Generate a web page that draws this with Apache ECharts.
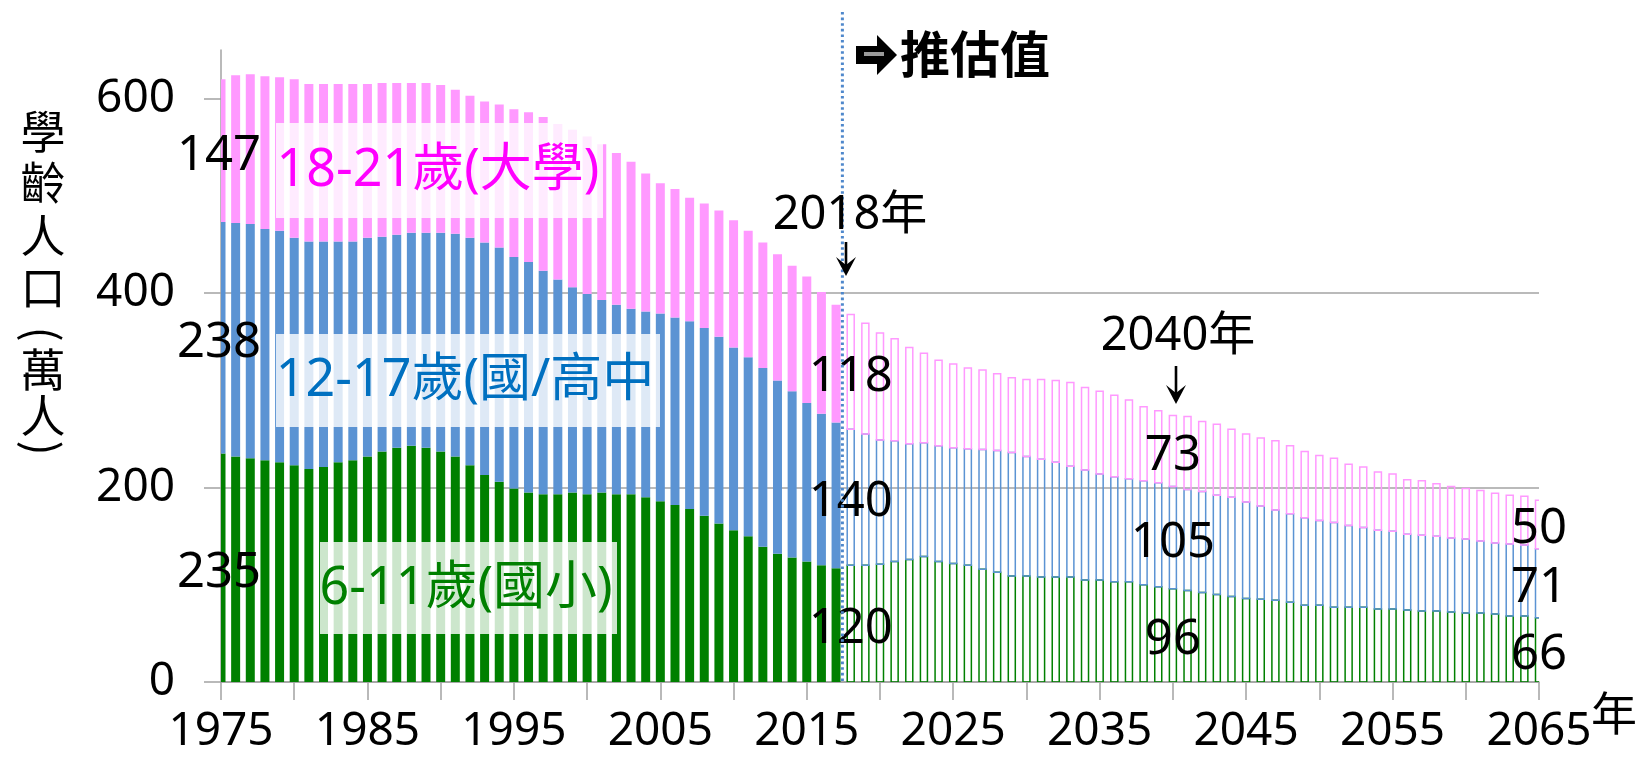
<!DOCTYPE html>
<html><head><meta charset="utf-8">
<script src="https://cdn.jsdelivr.net/npm/echarts@6/dist/echarts.min.js"></script>
<style>html,body{margin:0;padding:0;background:#fff}#c{width:1652px;height:760px}</style>
</head><body><div id="c"></div>
<script>
// ---- data ----
const years = [
  1975,1976,1977,1978,1979,1980,1981,1982,1983,1984,
  1985,1986,1987,1988,1989,1990,1991,1992,1993,1994,
  1995,1996,1997,1998,1999,2000,2001,2002,2003,2004,
  2005,2006,2007,2008,2009,2010,2011,2012,2013,2014,
  2015,2016,2017,2018,2019,2020,2021,2022,2023,2024,
  2025,2026,2027,2028,2029,2030,2031,2032,2033,2034,
  2035,2036,2037,2038,2039,2040,2041,2042,2043,2044,
  2045,2046,2047,2048,2049,2050,2051,2052,2053,2054,
  2055,2056,2057,2058,2059,2060,2061,2062,2063,2064,
  2065];
// 6-11歲(國小), 萬人
const primary = [
  235,232,230,228,226,223,219,221,226,228,
  232,237,241,243,241,237,232,223,213,206,
  199,195,193,193,195,193,195,193,193,190,
  186,182,178,171,163,156,150,139,132,128,
  124,120,117,120,120,121,124,126,129,124,
  122,120,116,113,109,109,108,108,108,105,
  105,103,103,100,98,96,94,92,90,88,
  86,85,84,82,79,79,77,77,77,75,
  75,74,73,73,72,71,71,70,68,68,
  66];
// 12-17歲(國/高中)
const secondary = [
  238,240,241,238,238,234,234,232,227,225,
  225,221,219,219,221,225,229,234,239,241,
  238,237,230,221,211,206,198,195,191,191,
  193,193,193,193,192,188,184,184,178,171,
  163,156,150,140,135,128,124,119,117,119,
  119,120,123,125,127,123,121,118,114,113,
  109,108,106,107,107,105,104,104,102,102,
  99,96,93,91,90,87,87,84,82,81,
  80,78,78,77,76,76,74,73,74,73,
  71];
// 18-21歲(大學)
const college = [
  147,152,154,157,158,163,162,162,162,162,
  158,158,156,154,154,152,148,146,145,147,
  152,154,158,160,162,162,160,156,151,142,
  134,132,127,128,130,131,130,129,130,129,
  130,125,121,118,114,110,105,99,92,88,
  86,83,82,79,77,79,82,84,86,85,
  85,84,81,76,74,73,75,72,73,70,
  70,70,71,70,68,67,66,63,62,60,
  59,56,56,54,53,52,52,51,50,50,
  50];
const yTicks = [0, 200, 400, 600];
const firstProjYear = 2018;
const labeledYears = [1975, 2018, 2040, 2065];
const groupNames = ['6-11歲(國小)', '12-17歲(國/高中', '18-21歲(大學)'];

// ---- styles ----
const colors = ['#008000', '#5B93D3', '#FF99FF'];
const gridGray = '#a3a3a3';
const latin = "'Noto Sans', 'Noto Sans CJK TC', sans-serif";
const cjk = "'Noto Sans CJK TC', 'Noto Sans', sans-serif";

// stacked segments [index, bottom, top] built from the value arrays
const groups = [primary, secondary, college];
const segs = [[], [], []];
const labelRows = [];
years.forEach(function (yr, i) {
  let base = 0;
  groups.forEach(function (vals, k) {
    segs[k].push([i, base, base + vals[i]]);
    if (labeledYears.indexOf(yr) >= 0) labelRows.push([i, base + vals[i] / 2, vals[i]]);
    base += vals[i];
  });
});

function barRenderer(color) {
  return function (params, api) {
    const idx = api.value(0);
    const lo = api.coord([idx, api.value(1)]);
    const hi = api.coord([idx, api.value(2)]);
    const proj = years[idx] >= firstProjYear;
    const w = proj ? 7 : 9;
    return {
      type: 'rect',
      shape: { x: lo[0] - w / 2, y: hi[1], width: w, height: lo[1] - hi[1] },
      style: proj ? { fill: 'none', stroke: color, lineWidth: 1.5 } : { fill: color }
    };
  };
}

function labelRenderer(params, api) {
  const idx = api.value(0);
  const p = api.coord([idx, api.value(1)]);
  return {
    type: 'text', x: p[0] + (idx === 0 ? -2 : 0), y: p[1] + 5,
    style: { text: String(api.value(2)), font: '49px ' + latin, fill: '#000', align: 'center', verticalAlign: 'middle' }
  };
}

const chart = echarts.init(document.getElementById('c'), null, { renderer: 'canvas' });
const series = segs.map(function (rows, k) {
  return {
    name: groupNames[k], type: 'custom', clip: true, silent: true,
    renderItem: barRenderer(colors[k]), encode: { x: 0, y: [1, 2] }, data: rows, z: 2
  };
});
series.push({
  name: 'labels', type: 'custom', clip: false, silent: true,
  renderItem: labelRenderer, encode: { x: 0, y: 1 }, data: labelRows, z: 5
});

chart.setOption({
  animation: false,
  textStyle: { fontFamily: latin },
  grid: { left: 221, right: 113, top: 50, bottom: 78, containLabel: false, outerBoundsMode: 'none' },
  xAxis: {
    type: 'category', data: years, boundaryGap: false,
    axisLine: { show: true, lineStyle: { color: gridGray, width: 1.5 } },
    axisTick: { show: true, interval: 4, length: 18, lineStyle: { color: gridGray, width: 1.5 } },
    axisLabel: { interval: 9, margin: 27, fontSize: 46, fontFamily: latin, color: '#000' },
    splitLine: { show: false }
  },
  yAxis: {
    type: 'value', min: 0, max: 650, interval: 200,
    axisLine: { show: true, lineStyle: { color: gridGray, width: 1.5 } },
    axisTick: { show: true, length: 17, customValues: yTicks, lineStyle: { color: gridGray, width: 1.5 } },
    axisLabel: { customValues: yTicks, margin: 46, fontSize: 46, fontFamily: latin, color: '#000' },
    splitLine: { show: true, showMaxLine: false, lineStyle: { color: gridGray, width: 1.5 } }
  },
  series: series
});

// ---- annotations ----
const iProj = years.indexOf(firstProjYear);
const xLast = chart.convertToPixel({ xAxisIndex: 0 }, iProj - 1);
const xFirst = chart.convertToPixel({ xAxisIndex: 0 }, iProj);
const xDiv = (xLast + xFirst) / 2 - 1;
const y0 = chart.convertToPixel({ yAxisIndex: 0 }, 0);

function downArrow(x, yTop, yBot) {
  return [
    { type: 'line', shape: { x1: x, y1: yTop, x2: x, y2: yBot - 8 }, style: { stroke: '#000', lineWidth: 2.6 }, z: 110 },
    { type: 'polygon', shape: { points: [[x - 10, yBot - 19], [x, yBot], [x + 10, yBot - 19], [x, yBot - 11]] }, style: { fill: '#000' }, z: 110 }
  ];
}

const yNameChars = [['學', 132], ['齡', 183], ['人', 236], ['口', 288], ['(', 334], ['萬', 370], ['人', 416], [')', 448]];
const graphics = [];
yNameChars.forEach(function (c) {
  const paren = c[0] === '(' || c[0] === ')';
  graphics.push({
    type: 'text', x: 43, y: c[1], rotation: paren ? -Math.PI / 2 : 0,
    style: { text: c[0], font: '45px ' + cjk, fill: '#000', align: 'center', verticalAlign: 'middle' }, z: 100
  });
});

// category label boxes
const boxes = [
  { x: 276, y: 123, w: 327, h: 95, tx: 438, ty: 171, text: groupNames[2], color: '#FF00FF' },
  { x: 276, y: 334, w: 384, h: 93, tx: 465, ty: 381, text: groupNames[1], color: '#0070C0' },
  { x: 320, y: 542, w: 297, h: 92, tx: 466, ty: 589, text: groupNames[0], color: '#008000' }
];
boxes.forEach(function (b) {
  graphics.push({ type: 'rect', shape: { x: b.x, y: b.y, width: b.w, height: b.h }, style: { fill: 'rgba(255,255,255,0.8)' }, z: 90 });
  graphics.push({ type: 'text', x: b.tx, y: b.ty, style: { text: b.text, font: '52px ' + latin, fill: b.color, align: 'center', verticalAlign: 'middle' }, z: 91 });
});

graphics.push({ type: 'line', shape: { x1: xDiv, y1: 12, x2: xDiv, y2: y0 }, style: { stroke: '#4F88CC', lineWidth: 3, lineDash: [2.6, 3] }, z: 105 });

graphics.push({ type: 'text', x: 850, y: 216, style: { text: '2018年', font: '47px ' + latin, fill: '#000', align: 'center', verticalAlign: 'middle' }, z: 110 });
downArrow(846, 242, 276).forEach(function (g) { graphics.push(g); });
graphics.push({ type: 'text', x: 1178, y: 337, style: { text: '2040年', font: '47px ' + latin, fill: '#000', align: 'center', verticalAlign: 'middle' }, z: 110 });
downArrow(1176, 366, 404).forEach(function (g) { graphics.push(g); });

// projection marker
graphics.push({ type: 'polygon', shape: { points: [[856, 46], [877, 46], [877, 35], [897, 55], [877, 75], [877, 64], [856, 64]] }, style: { fill: '#000' }, z: 110 });
graphics.push({ type: 'rect', shape: { x: 864, y: 52, width: 20, height: 4 }, style: { fill: '#9a9a9a' }, z: 111 });
graphics.push({ type: 'text', x: 900, y: 54, style: { text: '推估值', font: 'bold 50px ' + cjk, fill: '#000', align: 'left', verticalAlign: 'middle' }, z: 110 });

graphics.push({ type: 'text', x: 1614, y: 713, style: { text: '年', font: '46px ' + cjk, fill: '#000', align: 'center', verticalAlign: 'middle' }, z: 110 });

chart.setOption({ graphic: graphics });
</script>
</body></html>
